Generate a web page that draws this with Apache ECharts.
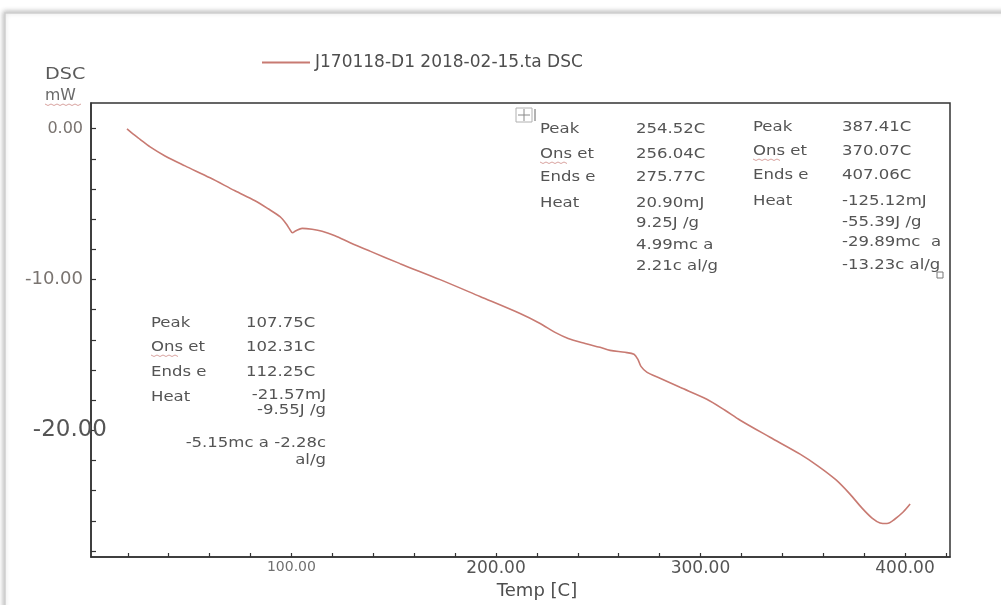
<!DOCTYPE html>
<html>
<head>
<meta charset="utf-8">
<title>DSC</title>
<script src="https://cdn.jsdelivr.net/npm/echarts@6/dist/echarts.min.js"></script>
<style>
  html, body { margin: 0; padding: 0; background: #ffffff; }
  #chart { width: 1001px; height: 605px; }
</style>
</head>
<body>
<div id="chart"></div>
<script>
// DSC trace: temperature (°C) against heat flow (mW)
const tempC = [
  19.6, 22.5, 26.0, 30.9, 38.2, 48.0, 60.2, 72.4, 82.2, 88.6,
  94.4, 97.4, 99.3, 100.5, 102.2, 105.2, 110.1, 115.0, 121.3, 128.7,
  138.4, 153.1, 172.7, 192.2, 211.8, 221.6, 228.9, 235.3, 243.6, 250.9,
  255.8, 263.1, 267.5, 269.4, 270.9, 273.9, 280.2, 290.0, 303.1, 312.0,
  319.4, 334.0, 348.7, 357.5, 366.3, 373.1, 379.0, 383.9, 387.8, 391.2,
  395.1, 399.1, 402.5
];
const heatFlow = [
  -0.02, -0.35, -0.71, -1.21, -1.81, -2.47, -3.26, -4.12, -4.78, -5.31,
  -5.84, -6.30, -6.70, -6.90, -6.77, -6.61, -6.67, -6.80, -7.10, -7.56,
  -8.12, -8.95, -10.01, -11.13, -12.26, -12.92, -13.51, -13.91, -14.24, -14.50,
  -14.70, -14.83, -14.96, -15.30, -15.76, -16.16, -16.55, -17.15, -17.94, -18.67,
  -19.33, -20.46, -21.58, -22.37, -23.29, -24.23, -25.16, -25.82, -26.14, -26.18,
  -25.88, -25.42, -24.89
];

// axis ticks and labels
const xTicks = [20, 40, 60, 80, 100, 120, 140, 160, 180, 200, 220, 240, 260, 280, 300, 320, 340, 360, 380, 400, 420];
const xLabels = [100, 200, 300, 400];
const yTicks = [0, -2, -4, -6, -8, -10, -12, -14, -16, -18, -20, -22, -24, -26, -28];
const yLabels = [0, -10, -20];

const seriesName = 'J170118-D1 2018-02-15.ta DSC';

// peak analysis results
const fieldNames = ['Peak', 'Ons et', 'Ends e', 'Heat'];
const peak1Values = ['107.75C', '102.31C', '112.25C'];
const peak1Heat = ['-21.57mJ', '-9.55J /g', '-5.15mc a -2.28c', 'al/g'];
const peak2Values = ['254.52C', '256.04C', '275.77C', '20.90mJ', '9.25J /g', '4.99mc a', '2.21c al/g'];
const peak3Values = ['387.41C', '370.07C', '407.06C', '-125.12mJ', '-55.39J /g', '-29.89mc  a', '-13.23c al/g'];

const chart = echarts.init(document.getElementById('chart'));

const FONT = 'DejaVu Sans';
const TXT = '#545454';

function txt(s, x, y, opts) {
  opts = opts || {};
  return {
    type: 'text',
    x: x, y: y,
    scaleX: opts.scaleX || 1.18,
    silent: true,
    style: {
      text: s,
      fill: opts.fill || TXT,
      font: (opts.size || 14) + 'px "' + FONT + '"',
      textAlign: opts.align || 'left',
      textVerticalAlign: 'middle'
    }
  };
}

function squiggle(x, y, w) {
  const pts = [];
  for (let i = 0; i <= w; i += 3) pts.push([x + i, y + ((i / 3) % 2 ? 1.5 : 0)]);
  return { type: 'polyline', silent: true, shape: { points: pts }, style: { stroke: '#d9a3a0', lineWidth: 1, fill: null } };
}

const graphics = [];

// outer frame of the sheet
graphics.push({
  type: 'rect', silent: true, z: -10,
  shape: { x: 5, y: 13, width: 1010, height: 600 },
  style: { fill: '#ffffff', stroke: '#cfcfcf', lineWidth: 1.5, shadowBlur: 5, shadowColor: 'rgba(0,0,0,0.25)', shadowOffsetX: -1, shadowOffsetY: -1 }
});

// axis title
graphics.push(txt('DSC', 45, 75, { size: 16, fill: '#5a5a5a', scaleX: 1.2 }));
graphics.push(txt('mW', 45, 96, { size: 15, fill: '#6a6a6a', scaleX: 1.05 }));
graphics.push(squiggle(45, 104, 37));

// block near the first transition
const rowsA = [323, 347, 372, 397];
fieldNames.forEach((f, i) => graphics.push(txt(f, 151, rowsA[i])));
peak1Values.forEach((v, i) => graphics.push(txt(v, 246, rowsA[i])));
graphics.push(txt(peak1Heat[0], 326, 395, { align: 'right' }));
graphics.push(txt(peak1Heat[1], 326, 410, { align: 'right' }));
graphics.push(txt(peak1Heat[2], 326, 443, { align: 'right' }));
graphics.push(txt(peak1Heat[3], 326, 460, { align: 'right' }));
graphics.push(squiggle(151, 355, 28));

// block for the middle transition
const rowsB = [129, 154, 177, 203, 223, 245, 266];
fieldNames.forEach((f, i) => graphics.push(txt(f, 540, rowsB[i])));
peak2Values.forEach((v, i) => graphics.push(txt(v, 636, rowsB[i])));
graphics.push(squiggle(540, 162, 28));

// block for the final transition
const rowsC = [127, 151, 175, 201, 222, 242, 265];
fieldNames.forEach((f, i) => graphics.push(txt(f, 753, rowsC[i])));
peak3Values.forEach((v, i) => graphics.push(txt(v, 842, rowsC[i])));
graphics.push(squiggle(753, 159, 28));

// small handle boxes
graphics.push({ type: 'rect', silent: true, shape: { x: 516, y: 108, width: 16, height: 14 }, style: { fill: '#fff', stroke: '#b0b0b0', lineWidth: 1 } });
graphics.push({ type: 'line', silent: true, shape: { x1: 518, y1: 115, x2: 530, y2: 115 }, style: { stroke: '#8a8a8a', lineWidth: 1 } });
graphics.push({ type: 'line', silent: true, shape: { x1: 524, y1: 109, x2: 524, y2: 121 }, style: { stroke: '#8a8a8a', lineWidth: 1 } });
graphics.push({ type: 'line', silent: true, shape: { x1: 535, y1: 109, x2: 535, y2: 121 }, style: { stroke: '#666', lineWidth: 1 } });
graphics.push({ type: 'rect', silent: true, shape: { x: 937, y: 272, width: 6, height: 6 }, style: { fill: '#fff', stroke: '#777', lineWidth: 1 } });

const data = tempC.map((t, i) => [t, heatFlow[i]]);

chart.setOption({
  animation: false,
  backgroundColor: '#ffffff',
  textStyle: { fontFamily: FONT },
  grid: {
    left: 91, right: 51, top: 103, bottom: 47,
    show: true, borderColor: '#333', borderWidth: 1.5, backgroundColor: 'transparent'
  },
  legend: {
    left: 262, top: 54, padding: 0,
    itemWidth: 48, itemHeight: 2, itemGap: 8,
    icon: 'rect',
    data: [seriesName],
    textStyle: { fontFamily: FONT, fontSize: 17, color: '#4e4e4e' }
  },
  xAxis: {
    type: 'value', min: 2, max: 422,
    name: 'Temp [C]', nameLocation: 'middle', nameGap: 25,
    nameTextStyle: { fontFamily: FONT, fontSize: 18, color: '#4e4e4e', padding: [0, 0, 0, 33] },
    axisLine: { show: true, onZero: false, lineStyle: { color: '#333', width: 1.5 } },
    axisTick: { show: true, inside: true, length: 4, customValues: xTicks, lineStyle: { color: '#333', width: 1.2 } },
    axisLabel: {
      show: true, margin: 3,
      customValues: xLabels,
      formatter: v => (v === 100 ? '{s|' : '{b|') + v.toFixed(2) + '}',
      rich: {
        s: { fontFamily: FONT, fontSize: 14, color: '#707070' },
        b: { fontFamily: FONT, fontSize: 17, color: '#555' }
      }
    },
    splitLine: { show: false }
  },
  yAxis: {
    type: 'value', min: -28.4, max: 1.7,
    axisLine: { show: true, onZero: false, lineStyle: { color: '#333', width: 1.5 } },
    axisTick: { show: true, inside: true, length: 5, customValues: yTicks, lineStyle: { color: '#333', width: 1.2 } },
    axisLabel: {
      show: true, margin: 8,
      customValues: yLabels,
      formatter: v => (v === -20 ? '{b|' : v === 0 ? '{s|' : '{m|') + v.toFixed(2) + '}',
      rich: {
        s: { fontFamily: FONT, fontSize: 16, color: '#7a7470' },
        m: { fontFamily: FONT, fontSize: 18, color: '#7a7470' },
        b: { fontFamily: FONT, fontSize: 23, color: '#555', padding: [0, -24, 0, 0] }
      }
    },
    splitLine: { show: false }
  },
  series: [{
    name: seriesName,
    type: 'line',
    data: data,
    smooth: 0.3,
    showSymbol: false,
    color: '#c87a72',
    lineStyle: { color: '#c87a72', width: 1.6 }
  }],
  graphic: graphics
});
</script>
</body>
</html>
